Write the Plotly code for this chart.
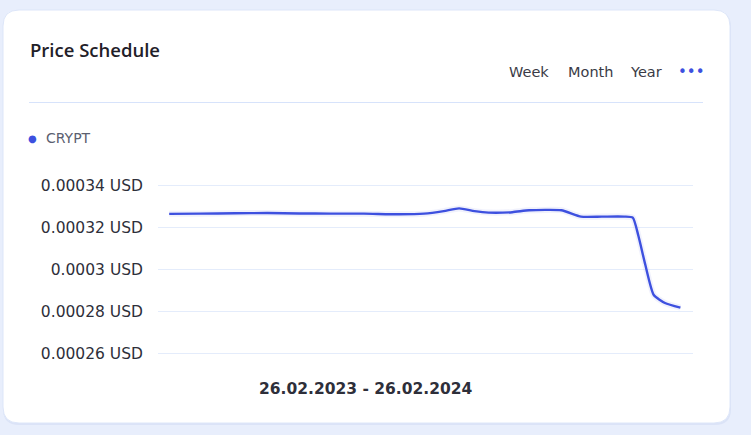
import plotly.graph_objects as go

# ---------------- data ----------------
dates = ["2023-02-26", "2023-03-20", "2023-04-14", "2023-05-07", "2023-05-30",
         "2023-06-21", "2023-07-15", "2023-08-09", "2023-08-27", "2023-09-10",
         "2023-09-21", "2023-10-02", "2023-10-12", "2023-10-29", "2023-11-10",
         "2023-12-03", "2023-12-17", "2024-01-01", "2024-01-17", "2024-01-23",
         "2024-01-27", "2024-02-01", "2024-02-07", "2024-02-15", "2024-02-26"]
prices = [0.0003264, 0.0003265, 0.0003267, 0.0003268, 0.0003266,
          0.0003265, 0.0003265, 0.0003262, 0.0003265, 0.0003277,
          0.0003290, 0.0003277, 0.0003270, 0.0003272, 0.0003281,
          0.0003281, 0.0003251, 0.0003251, 0.0003251, 0.0003246,
          0.0003160, 0.0003021, 0.0002879, 0.0002841, 0.0002819]
tick_vals = [0.00026, 0.00028, 0.0003, 0.00032, 0.00034]
tick_text = ["0.00026 USD", "0.00028 USD", "0.0003 USD", "0.00032 USD", "0.00034 USD"]
period_buttons = ["Week", "Month", "Year"]
series_name = "CRYPT"
title_text = "Price Schedule"
range_label = "26.02.2023 - 26.02.2024"

# ---------------- layout geometry ----------------
W, H = 751, 435
L, R, T, B = 158, 58, 181, 77
PW = W - L - R
PH = H - T - B
FONT = "DejaVu Sans"
BLUE = "#3d50df"
TEXT = "#2e2f3a"


def fx(px):
    return (px - L) / PW


def fy(py):
    return (H - B - py) / PH


def rounded_rect(x0, y0, x1, y1, r):
    X0, X1 = fx(x0), fx(x1)
    Y0, Y1 = fy(y0), fy(y1)
    rx, ry = r / PW, r / PH
    return (f"M {X0+rx} {Y0} L {X1-rx} {Y0} Q {X1} {Y0} {X1} {Y0-ry} "
            f"L {X1} {Y1+ry} Q {X1} {Y1} {X1-rx} {Y1} "
            f"L {X0+rx} {Y1} Q {X0} {Y1} {X0} {Y1+ry} "
            f"L {X0} {Y0-ry} Q {X0} {Y0} {X0+rx} {Y0} Z")


fig = go.Figure()
# soft glow under the line
fig.add_trace(go.Scatter(x=dates, y=prices, mode="lines",
                         line=dict(color="rgba(61,80,223,0.08)", width=6, shape="spline", smoothing=0.55),
                         hoverinfo="skip", showlegend=False))
fig.add_trace(go.Scatter(x=dates, y=prices, mode="lines", name=series_name,
                         line=dict(color=BLUE, width=2.4, shape="spline", smoothing=0.55),
                         showlegend=False))

shapes = [
    # card shadow + card
    dict(type="path", xref="paper", yref="paper", path=rounded_rect(3, 11, 731, 425, 16),
         fillcolor="#dbe3f7", line=dict(width=0), layer="below"),
    dict(type="path", xref="paper", yref="paper", path=rounded_rect(3, 10, 730, 423, 16),
         fillcolor="white", line=dict(color="#dde6f9", width=1), layer="below"),
    # separator
    dict(type="line", xref="paper", yref="paper", x0=fx(29), x1=fx(703), y0=fy(102.5), y1=fy(102.5),
         line=dict(color="#d7e3fb", width=1)),
]

annotations = [
    dict(text=title_text, x=fx(28), y=fy(49), xanchor="left", yanchor="middle",
         font=dict(family="Open Sans", size=18.5, color="#1f2028", weight=600)),
    dict(text="\u25CF", x=fx(32), y=fy(138), xanchor="center", yanchor="middle",
         font=dict(family=FONT, size=10, color=BLUE)),
    dict(text=series_name, x=fx(44), y=fy(138), xanchor="left", yanchor="middle",
         font=dict(family=FONT, size=14, color="#5b6070")),
    dict(text=range_label, x=fx(366), y=fy(389), xanchor="center", yanchor="middle",
         font=dict(family=FONT, size=15.5, color=TEXT, weight=600)),
    dict(text="\u2022\u2022\u2022", x=fx(691), y=fy(72), xanchor="center", yanchor="middle",
         font=dict(family=FONT, size=15, color=BLUE)),
]
btn_x = [529, 590, 646]
for label, cx in zip(period_buttons, btn_x):
    annotations.append(dict(text=label, x=fx(cx), y=fy(72), xanchor="center", yanchor="middle",
                            font=dict(family=FONT, size=14.5, color="#3a3b46")))
for a in annotations:
    a.update(xref="paper", yref="paper", showarrow=False)

fig.update_layout(
    width=W, height=H,
    margin=dict(l=L, r=R, t=T, b=B, pad=0),
    paper_bgcolor="#e8eefc",
    plot_bgcolor="rgba(0,0,0,0)",
    shapes=shapes,
    annotations=annotations,
    showlegend=False,
    xaxis=dict(range=["2023-02-18", "2024-03-06"], visible=False, showgrid=False, zeroline=False),
    yaxis=dict(range=[0.000258, 0.000342], tickvals=tick_vals, ticktext=tick_text,
               showgrid=True, gridcolor="#e4ecfb", gridwidth=1, zeroline=False, showline=False,
               ticks="", ticklabelstandoff=14,
               tickfont=dict(family=FONT, size=15.5, color=TEXT)),
)

fig.write_html("out.html")
